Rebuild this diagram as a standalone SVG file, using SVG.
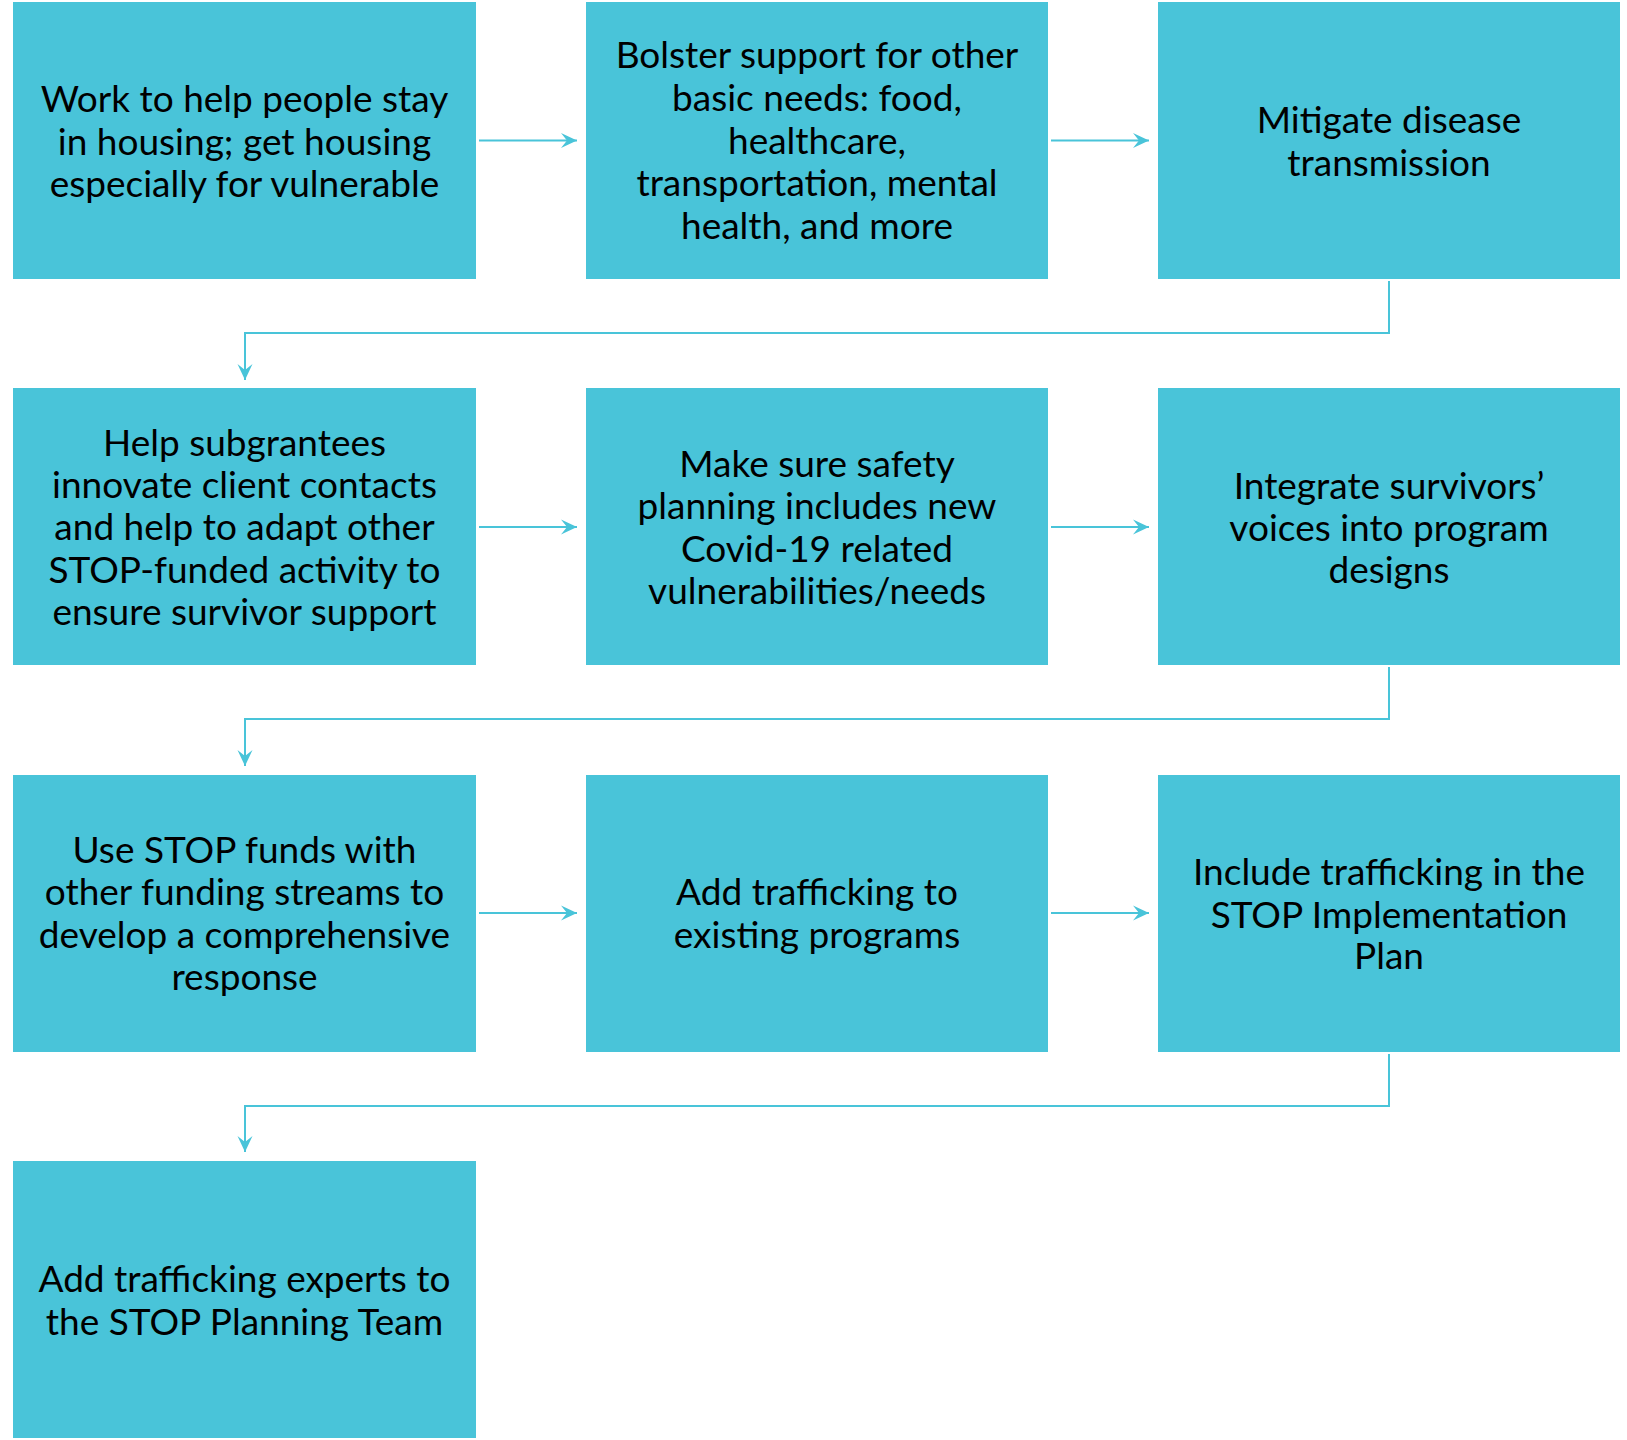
<svg xmlns="http://www.w3.org/2000/svg" width="1627" height="1440" viewBox="0 0 1627 1440">
<style>
.box{fill:#49C4D9;}
.t{font-family:Lato,"Open Sans","Liberation Sans",sans-serif;font-size:37px;fill:#000;text-anchor:middle;}
.c{fill:none;stroke:#49C4D9;stroke-width:2;}
</style>
<defs>
<marker id="ah" markerUnits="userSpaceOnUse" markerWidth="18" markerHeight="18" refX="16" refY="8" orient="auto" viewBox="0 0 18 16">
<path d="M0,0.5 L16,8 L0,15.5 L6,8 Z" fill="#49C4D9"/>
</marker>
</defs>
<rect width="1627" height="1440" fill="#fff"/>
<g id="connectors">
<path class="c" d="M479,140.5 H577" marker-end="url(#ah)"/>
<path class="c" d="M1051,140.5 H1149" marker-end="url(#ah)"/>
<path class="c" d="M1389,281 V333 H245 V380" marker-end="url(#ah)"/>
<path class="c" d="M479,527 H577" marker-end="url(#ah)"/>
<path class="c" d="M1051,527 H1149" marker-end="url(#ah)"/>
<path class="c" d="M1389,667 V719 H245 V766" marker-end="url(#ah)"/>
<path class="c" d="M479,913 H577" marker-end="url(#ah)"/>
<path class="c" d="M1051,913 H1149" marker-end="url(#ah)"/>
<path class="c" d="M1389,1054 V1106 H245 V1152" marker-end="url(#ah)"/>
</g>
<g id="n1"><rect class="box" x="13" y="2" width="463" height="277"/>
<text class="t" x="244.5"><tspan x="244.5" y="112">Work to help people stay</tspan><tspan x="244.5" y="155">in housing; get housing</tspan><tspan x="244.5" y="197">especially for vulnerable</tspan></text></g>
<g id="n2"><rect class="box" x="586" y="2" width="462" height="277"/>
<text class="t" x="817"><tspan x="817" y="68">Bolster support for other</tspan><tspan x="817" y="111">basic needs: food,</tspan><tspan x="817" y="154">healthcare,</tspan><tspan x="817" y="196">transportation, mental</tspan><tspan x="817" y="239">health, and more</tspan></text></g>
<g id="n3"><rect class="box" x="1158" y="2" width="462" height="277"/>
<text class="t" x="1389"><tspan x="1389" y="133">Mitigate disease</tspan><tspan x="1389" y="176">transmission</tspan></text></g>
<g id="n4"><rect class="box" x="13" y="388" width="463" height="277"/>
<text class="t" x="244.5"><tspan x="244.5" y="456">Help subgrantees</tspan><tspan x="244.5" y="498">innovate client contacts</tspan><tspan x="244.5" y="540">and help to adapt other</tspan><tspan x="244.5" y="583">STOP-funded activity to</tspan><tspan x="244.5" y="625">ensure survivor support</tspan></text></g>
<g id="n5"><rect class="box" x="586" y="388" width="462" height="277"/>
<text class="t" x="817"><tspan x="817" y="477">Make sure safety</tspan><tspan x="817" y="519">planning includes new</tspan><tspan x="817" y="562">Covid-19 related</tspan><tspan x="817" y="604">vulnerabilities/needs</tspan></text></g>
<g id="n6"><rect class="box" x="1158" y="388" width="462" height="277"/>
<text class="t" x="1389"><tspan x="1389" y="499">Integrate survivors’</tspan><tspan x="1389" y="541">voices into program</tspan><tspan x="1389" y="583">designs</tspan></text></g>
<g id="n7"><rect class="box" x="13" y="775" width="463" height="277"/>
<text class="t" x="244.5"><tspan x="244.5" y="863">Use STOP funds with</tspan><tspan x="244.5" y="905">other funding streams to</tspan><tspan x="244.5" y="948">develop a comprehensive</tspan><tspan x="244.5" y="990">response</tspan></text></g>
<g id="n8"><rect class="box" x="586" y="775" width="462" height="277"/>
<text class="t" x="817"><tspan x="817" y="905">Add trafficking to</tspan><tspan x="817" y="948">existing programs</tspan></text></g>
<g id="n9"><rect class="box" x="1158" y="775" width="462" height="277"/>
<text class="t" x="1389"><tspan x="1389" y="885">Include trafficking in the</tspan><tspan x="1389" y="928">STOP Implementation</tspan><tspan x="1389" y="969">Plan</tspan></text></g>
<g id="n10"><rect class="box" x="13" y="1161" width="463" height="277"/>
<text class="t" x="244.5"><tspan x="244.5" y="1292">Add trafficking experts to</tspan><tspan x="244.5" y="1335">the STOP Planning Team</tspan></text></g>
</svg>
